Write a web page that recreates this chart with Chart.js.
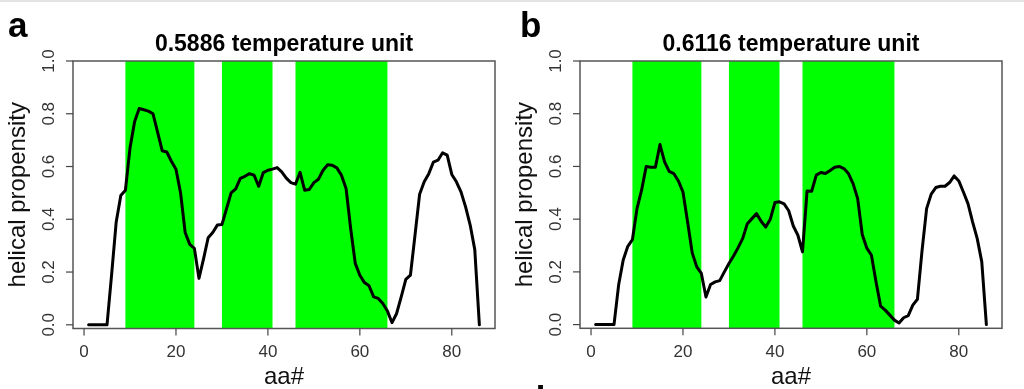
<!DOCTYPE html>
<html><head><meta charset="utf-8">
<script src="https://cdn.jsdelivr.net/npm/chart.js@4.4.1/dist/chart.umd.min.js"></script>
<style>
html,body{margin:0;padding:0;background:#fff;}
#wrap{position:relative;width:1024px;height:389px;overflow:hidden;background:#fff;}
#topline{position:absolute;left:0;top:0;width:1024px;height:2px;background:#e4e4e4;}
canvas{position:absolute;top:0;}
#c1{left:0;} #c2{left:512px;}
</style></head><body>
<div id="wrap">
<canvas id="c1" width="512" height="389"></canvas>
<canvas id="c2" width="512" height="389"></canvas>
<div id="topline"></div>
</div>
<script>
// ---- data ----
const aa = [1,2,3,4,5,6,7,8,9,10,11,12,13,14,15,16,17,18,19,20,21,22,23,24,25,26,27,28,29,30,
  31,32,33,34,35,36,37,38,39,40,41,42,43,44,45,46,47,48,49,50,51,52,53,54,55,56,57,58,59,60,
  61,62,63,64,65,66,67,68,69,70,71,72,73,74,75,76,77,78,79,80,81,82,83,84,85,86];

const propensityA = [0,0,0,0,0,0.19,0.39,0.49,0.51,0.67,
  0.77,0.82,0.815,0.81,0.80,0.73,0.66,0.655,0.62,0.59,
  0.50,0.35,0.305,0.29,0.176,0.25,0.33,0.35,0.378,0.38,
  0.44,0.50,0.515,0.555,0.563,0.573,0.567,0.525,0.577,0.586,
  0.59,0.596,0.58,0.556,0.539,0.533,0.578,0.51,0.513,0.539,
  0.552,0.586,0.607,0.605,0.595,0.567,0.517,0.365,0.233,0.188,
  0.16,0.148,0.106,0.10,0.081,0.052,0.008,0.043,0.106,0.172,
  0.188,0.34,0.495,0.542,0.573,0.617,0.624,0.652,0.643,0.57,
  0.542,0.504,0.447,0.378,0.285,0.0];

const propensityB = [0,0,0,0,0,0.15,0.245,0.297,0.322,0.44,
  0.51,0.60,0.597,0.597,0.683,0.617,0.581,0.573,0.545,0.503,
  0.39,0.273,0.219,0.194,0.105,0.152,0.162,0.167,0.20,0.232,
  0.26,0.292,0.327,0.383,0.402,0.421,0.392,0.37,0.40,0.463,
  0.466,0.458,0.432,0.374,0.339,0.276,0.507,0.506,0.567,0.577,
  0.573,0.585,0.597,0.600,0.592,0.573,0.535,0.478,0.342,0.29,
  0.263,0.162,0.07,0.055,0.036,0.017,0.006,0.026,0.034,0.074,
  0.096,0.28,0.44,0.495,0.52,0.525,0.525,0.539,0.564,0.545,
  0.503,0.459,0.39,0.327,0.238,0.0];

const helixStart = [9, 30, 46];
const helixEnd = [24, 41, 66];

const xTicks = [0, 20, 40, 60, 80];
const xTickLabels = ['0', '20', '40', '60', '80'];
const yTicks = [0, 0.2, 0.4, 0.6, 0.8, 1.0];
const yTickLabels = ['0.0', '0.2', '0.4', '0.6', '0.8', '1.0'];

const panelTitles = ['0.5886 temperature unit', '0.6116 temperature unit'];
const panelLetters = ['a', 'b'];
const xTitle = 'aa#';
const yTitle = 'helical propensity';

// ---- drawing ----
const FONT = '"Liberation Sans", Arial, Helvetica, sans-serif';

const rStyle = {
  id: 'rStyle',
  beforeDatasetsDraw(chart) {
    const {ctx, chartArea: a, scales: {x}} = chart;
    ctx.save();
    ctx.fillStyle = '#00ff00';
    helixStart.forEach((s, i) => {
      const x0 = x.getPixelForValue(s);
      const x1 = x.getPixelForValue(helixEnd[i]);
      ctx.fillRect(x0, a.top, x1 - x0, a.bottom - a.top);
    });
    ctx.restore();
  },
  afterDraw(chart, args, opts) {
    const {ctx, chartArea: a, scales: {x, y}} = chart;
    ctx.save();
    // box
    ctx.strokeStyle = '#555';
    ctx.lineWidth = 1.5;
    ctx.strokeRect(a.left, a.top, a.right - a.left, a.bottom - a.top);
    // x ticks
    ctx.strokeStyle = '#444';
    ctx.lineWidth = 1.2;
    ctx.fillStyle = '#333';
    ctx.font = '17px ' + FONT;
    ctx.textAlign = 'center';
    ctx.textBaseline = 'middle';
    xTicks.forEach((v, i) => {
      const px = x.getPixelForValue(v);
      ctx.beginPath();
      ctx.moveTo(px, a.bottom);
      ctx.lineTo(px, a.bottom + 7);
      ctx.stroke();
      ctx.fillText(xTickLabels[i], px, a.bottom + 24);
    });
    // y ticks
    yTicks.forEach((v, i) => {
      const py = y.getPixelForValue(v);
      ctx.beginPath();
      ctx.moveTo(a.left, py);
      ctx.lineTo(a.left - 7, py);
      ctx.stroke();
      ctx.save();
      ctx.translate(a.left - 23.5, py);
      ctx.rotate(-Math.PI / 2);
      ctx.fillText(yTickLabels[i], 0, 0);
      ctx.restore();
    });
    const cx = (a.left + a.right) / 2;
    const cy = (a.top + a.bottom) / 2;
    // axis titles
    ctx.fillStyle = '#111';
    ctx.font = '24px ' + FONT;
    ctx.textBaseline = 'alphabetic';
    ctx.fillText(xTitle, cx, 384);
    ctx.save();
    ctx.translate(a.left - 55, cy);
    ctx.rotate(-Math.PI / 2);
    ctx.textBaseline = 'middle';
    ctx.fillText(yTitle, 0, 0);
    ctx.restore();
    // main title
    ctx.fillStyle = '#000';
    ctx.font = 'bold 23px ' + FONT;
    ctx.textAlign = 'center';
    ctx.textBaseline = 'alphabetic';
    ctx.fillText(opts.title, cx, 50.5);
    // panel letter
    ctx.font = 'bold 35px ' + FONT;
    ctx.textAlign = 'left';
    ctx.fillText(opts.letter, 8, 37);
    if (opts.extra) {
      ctx.fillText(opts.extra, 12, 411);
    }
    ctx.restore();
  }
};

function makeChart(id, values, idx, pad) {
  const pts = aa.map((v, i) => ({x: v, y: values[i]}));
  return new Chart(document.getElementById(id), {
    type: 'line',
    data: {
      datasets: [{
        data: pts,
        borderColor: '#000',
        borderWidth: 3,
        pointRadius: 0,
        tension: 0,
        fill: false,
        borderJoinStyle: 'round',
        borderCapStyle: 'round'
      }]
    },
    options: {
      responsive: false,
      animation: false,
      devicePixelRatio: 1,
      layout: {padding: pad},
      scales: {
        x: {type: 'linear', min: -2.4, max: 89.4, display: false},
        y: {type: 'linear', min: -0.014, max: 1.0, display: false}
      },
      plugins: {
        legend: {display: false},
        tooltip: {enabled: false},
        rStyle: {title: panelTitles[idx], letter: panelLetters[idx], extra: idx === 1 ? 'd' : ''}
      }
    },
    plugins: [rStyle]
  });
}

makeChart('c1', propensityA, 0, {left: 73, right: 17, top: 61, bottom: 60.5});
makeChart('c2', propensityB, 1, {left: 68, right: 22, top: 61, bottom: 60.7});
</script>
</body></html>
